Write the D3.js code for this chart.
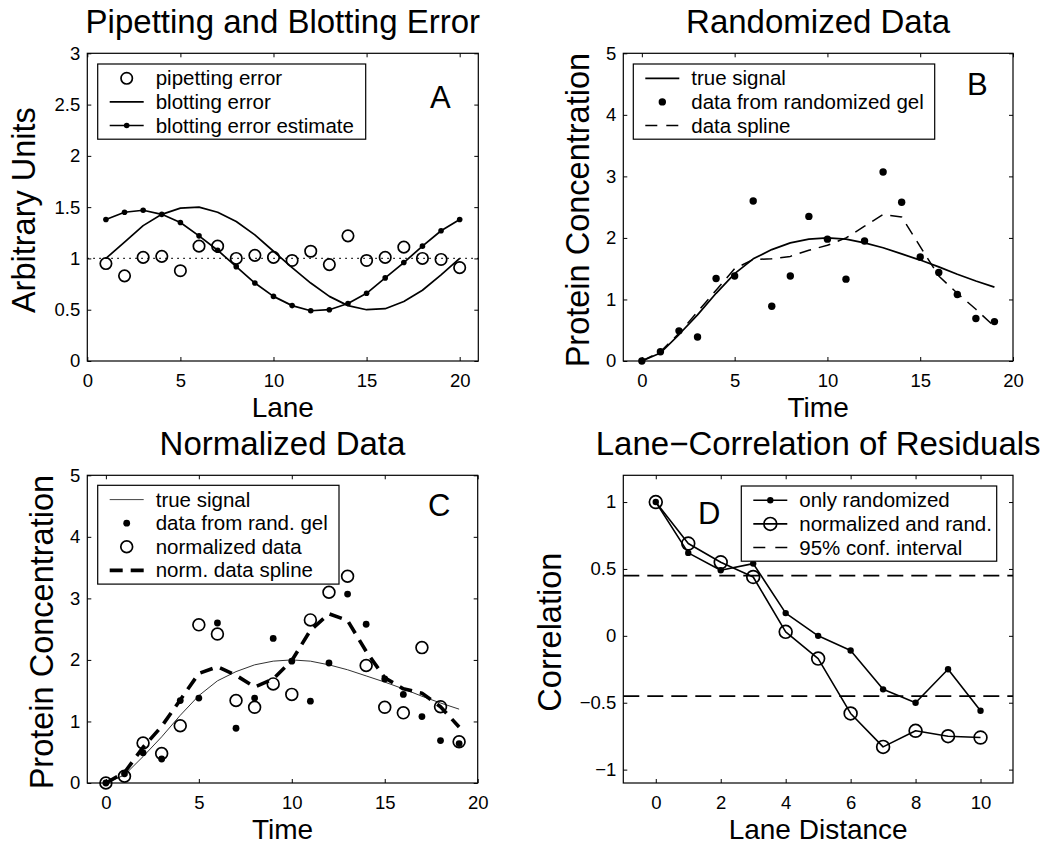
<!DOCTYPE html>
<html>
<head>
<meta charset="utf-8">
<script src="https://cdn.jsdelivr.net/npm/d3@7"></script>
<style>
body { margin: 0; background: #fff; }
text { font-family: "Liberation Sans", Arial, Helvetica, sans-serif; fill: #000; }
</style>
</head>
<body>
<div id="chart"></div>
<script>
// ---- data ----
var lanes = d3.range(1, 21);
var pipetting = [0.95, 0.83, 1.01, 1.02, 0.88, 1.12, 1.12, 1.00, 1.03, 1.01,
                 0.98, 1.07, 0.94, 1.22, 0.98, 1.01, 1.11, 1.00, 0.99, 0.91];
var blotting = [1.00, 1.16, 1.32, 1.43, 1.49, 1.50, 1.45, 1.36, 1.23, 1.07,
                0.91, 0.76, 0.63, 0.54, 0.50, 0.51, 0.58, 0.69, 0.84, 1.00];
var blotEstimate = [1.38, 1.45, 1.47, 1.43, 1.35, 1.22, 1.08, 0.92, 0.76, 0.63,
                    0.54, 0.49, 0.50, 0.56, 0.66, 0.81, 0.96, 1.12, 1.27, 1.38];
var pipetLevel = 1;

var times = d3.range(0, 20);
var trueSignal = [0, 0.13, 0.43, 0.75, 1.10, 1.42, 1.66, 1.81, 1.92, 1.98,
                  2.00, 1.98, 1.92, 1.84, 1.74, 1.64, 1.53, 1.41, 1.30, 1.20];
var randGel = [0, 0.15, 0.49, 0.39, 1.34, 1.38, 2.60, 0.89, 1.38, 2.35,
               1.98, 1.33, 1.95, 3.07, 2.58, 1.69, 1.44, 1.08, 0.69, 0.64];
var dataSpline = [0, 0.15, 0.45, 0.80, 1.15, 1.50, 1.65, 1.66, 1.70, 1.80,
                  1.88, 2.00, 2.19, 2.38, 2.34, 1.86, 1.38, 1.10, 0.84, 0.56];
var normData = [0, 0.11, 0.65, 0.48, 0.93, 2.57, 2.42, 1.34, 1.23, 1.61,
                1.44, 2.65, 3.10, 3.36, 1.91, 1.23, 1.14, 2.20, 1.24, 0.67];
var normSpline = [0, 0.17, 0.58, 0.92, 1.35, 1.78, 1.89, 1.75, 1.56, 1.69,
                  1.99, 2.48, 2.75, 2.64, 2.14, 1.71, 1.53, 1.46, 1.24, 0.91];

var laneDist = d3.range(0, 11);
var onlyRand = [1.00, 0.62, 0.49, 0.54, 0.17, 0.00, -0.11, -0.40, -0.50, -0.25, -0.56];
var normRand = [1.00, 0.69, 0.55, 0.44, 0.03, -0.17, -0.58, -0.83, -0.71, -0.75, -0.76];
var confBound = 0.45;

// ticks
var ticksA_x = [0, 5, 10, 15, 20];
var ticksA_y = [0, 0.5, 1, 1.5, 2, 2.5, 3];
var ticksT_x = [0, 5, 10, 15, 20];
var ticksT_y = [0, 1, 2, 3, 4, 5];
var ticksD_x = [0, 2, 4, 6, 8, 10];
var ticksD_y = [-1, -0.5, 0, 0.5, 1];

var svgWidth = 1048, svgHeight = 844;
var svg = d3.select("#chart").append("svg")
  .attr("width", svgWidth)
  .attr("height", svgHeight);

var fmt = function(d) { return String(d).replace("-", "\u2212"); };

function panel(cfg) {
  var b = cfg.box;
  var x = d3.scaleLinear().domain(cfg.xDomain).range([b.l, b.r]);
  var y = d3.scaleLinear().domain(cfg.yDomain).range([b.b, b.t]);
  var g = svg.append("g");

  var tick = 4;
  var axes = [
    {ax: d3.axisBottom(x).tickValues(cfg.xTicks).tickFormat(fmt).tickPadding(13), t: `translate(0,${b.b})`},
    {ax: d3.axisTop(x).tickValues(cfg.xTicks).tickFormat(""), t: `translate(0,${b.t})`},
    {ax: d3.axisLeft(y).tickValues(cfg.yTicks).tickFormat(fmt).tickPadding(7), t: `translate(${b.l},0)`},
    {ax: d3.axisRight(y).tickValues(cfg.yTicks).tickFormat(""), t: `translate(${b.r},0)`}
  ];
  axes.forEach(function(a) {
    var ag = g.append("g").attr("transform", a.t)
      .call(a.ax.tickSizeInner(-tick).tickSizeOuter(0));
    ag.select(".domain").remove();
    ag.selectAll("line").attr("stroke", "#000").attr("stroke-width", 1);
    ag.selectAll("text").style("font-size", "18.5px")
      .style("font-family", '"Liberation Sans", Arial, sans-serif');
  });

  g.append("rect")
    .attr("x", b.l).attr("y", b.t)
    .attr("width", b.r - b.l).attr("height", b.b - b.t)
    .attr("fill", "none").attr("stroke", "#000").attr("stroke-width", 1.2);

  g.append("text")
    .attr("x", (b.l + b.r) / 2).attr("y", b.t - 20)
    .attr("text-anchor", "middle")
    .style("font-size", "33px")
    .text(cfg.title);

  g.append("text")
    .attr("x", (b.l + b.r) / 2).attr("y", b.b + 56)
    .attr("text-anchor", "middle")
    .style("font-size", "28px")
    .text(cfg.xLabel);

  g.append("text")
    .attr("transform", `translate(${b.l - cfg.yLabelOff},${(b.t + b.b) / 2 + 3}) rotate(-90)`)
    .attr("text-anchor", "middle")
    .style("font-size", "32.5px")
    .text(cfg.yLabel);

  g.append("text")
    .attr("x", cfg.letterPos[0]).attr("y", cfg.letterPos[1])
    .style("font-size", "31px")
    .text(cfg.letter);

  return {g: g, x: x, y: y};
}

function drawLine(p, xs, ys, style) {
  var line = d3.line()
    .x(function(d, i) { return p.x(xs[i]); })
    .y(function(d) { return p.y(d); });
  p.g.append("path")
    .datum(ys)
    .attr("d", line)
    .attr("fill", "none")
    .attr("stroke", style.color || "#000")
    .attr("stroke-width", style.width)
    .attr("stroke-dasharray", style.dash || null)
    .attr("stroke-linejoin", "round");
}

function drawDots(p, xs, ys, r) {
  p.g.selectAll(null)
    .data(ys)
    .enter()
    .append("circle")
    .attr("cx", function(d, i) { return p.x(xs[i]); })
    .attr("cy", function(d) { return p.y(d); })
    .attr("r", r)
    .attr("fill", "#000");
}

function drawRings(p, xs, ys, r) {
  p.g.selectAll(null)
    .data(ys)
    .enter()
    .append("circle")
    .attr("cx", function(d, i) { return p.x(xs[i]); })
    .attr("cy", function(d) { return p.y(d); })
    .attr("r", r)
    .attr("fill", "none")
    .attr("stroke", "#000")
    .attr("stroke-width", 1.7);
}

function legend(p, left, top, width, entries) {
  var rowH = 23.6;
  var lg = p.g.append("g");
  lg.append("rect")
    .attr("x", left).attr("y", top)
    .attr("width", width).attr("height", 28 + rowH * (entries.length - 1))
    .attr("fill", "#fff").attr("stroke", "#000").attr("stroke-width", 1.2);
  entries.forEach(function(e, i) {
    var cy = top + 14.3 + i * rowH;
    if (e.line) {
      lg.append("line")
        .attr("x1", left + 12).attr("x2", left + 46)
        .attr("y1", cy).attr("y2", cy)
        .attr("stroke", e.line.color || "#000")
        .attr("stroke-width", e.line.width)
        .attr("stroke-dasharray", e.line.dash || null);
    }
    if (e.dot) {
      lg.append("circle").attr("cx", left + 29).attr("cy", cy).attr("r", e.dot).attr("fill", "#000");
    }
    if (e.ring) {
      lg.append("circle").attr("cx", left + 29).attr("cy", cy).attr("r", e.ring)
        .attr("fill", "none").attr("stroke", "#000").attr("stroke-width", 1.7);
    }
    lg.append("text")
      .attr("x", left + 58).attr("y", cy + 7)
      .style("font-size", "20.5px")
      .text(e.label);
  });
}

// ---- Panel A ----
var pA = panel({
  box: {l: 87.3, r: 478.3, t: 53.3, b: 361},
  xDomain: [0, 21], yDomain: [0, 3],
  xTicks: ticksA_x, yTicks: ticksA_y,
  title: "Pipetting and Blotting Error", xLabel: "Lane", yLabel: "Arbitrary Units",
  yLabelOff: 52, letter: "A", letterPos: [430, 108]
});
pA.g.append("line")
  .attr("x1", pA.x(0)).attr("x2", pA.x(21))
  .attr("y1", pA.y(pipetLevel)).attr("y2", pA.y(pipetLevel))
  .attr("stroke", "#000").attr("stroke-width", 1.3).attr("stroke-dasharray", "1.5,4.5");
drawLine(pA, lanes, blotting, {width: 1.7});
drawLine(pA, lanes, blotEstimate, {width: 1.7});
drawDots(pA, lanes, blotEstimate, 2.8);
drawRings(pA, lanes, pipetting, 5.7);
legend(pA, 97.7, 64, 268, [
  {label: "pipetting error", ring: 5.7},
  {label: "blotting error", line: {width: 1.7}},
  {label: "blotting error estimate", line: {width: 1.7}, dot: 2.8}
]);

// ---- Panel B ----
var pB = panel({
  box: {l: 623.3, r: 1013, t: 53.3, b: 361},
  xDomain: [-1, 20], yDomain: [0, 5],
  xTicks: ticksT_x, yTicks: ticksT_y,
  title: "Randomized Data", xLabel: "Time", yLabel: "Protein Concentration",
  yLabelOff: 34, letter: "B", letterPos: [967, 94.5]
});
drawLine(pB, times, trueSignal, {width: 1.7});
drawLine(pB, times, dataSpline, {width: 1.5, dash: "12,8"});
drawDots(pB, times, randGel, 3.7);
legend(pB, 633.3, 64, 301.4, [
  {label: "true signal", line: {width: 1.7}},
  {label: "data from randomized gel", dot: 3.7},
  {label: "data spline", line: {width: 1.5, dash: "12,9"}}
]);

// ---- Panel C ----
var pC = panel({
  box: {l: 87.3, r: 477.7, t: 475.3, b: 783},
  xDomain: [-1, 20], yDomain: [0, 5],
  xTicks: ticksT_x, yTicks: ticksT_y,
  title: "Normalized Data", xLabel: "Time", yLabel: "Protein Concentration",
  yLabelOff: 34, letter: "C", letterPos: [428, 516]
});
drawLine(pC, times, trueSignal, {width: 1, color: "#333"});
drawLine(pC, times, normSpline, {width: 3.6, dash: "13,8"});
drawDots(pC, times, randGel, 3.4);
drawRings(pC, times, normData, 5.9);
legend(pC, 97.7, 485.3, 241.3, [
  {label: "true signal", line: {width: 1, color: "#444"}},
  {label: "data from rand. gel", dot: 3.4},
  {label: "normalized data", ring: 5.9},
  {label: "norm. data spline", line: {width: 3.6, dash: "13,8"}}
]);

// ---- Panel D ----
var pD = panel({
  box: {l: 623.3, r: 1013, t: 475.3, b: 783},
  xDomain: [-1, 11], yDomain: [-1.1, 1.2],
  xTicks: ticksD_x, yTicks: ticksD_y,
  title: "Lane\u2212Correlation of Residuals", xLabel: "Lane Distance", yLabel: "Correlation",
  yLabelOff: 62, letter: "D", letterPos: [698, 524]
});
[confBound, -confBound].forEach(function(c) {
  pD.g.append("line")
    .attr("x1", pD.x(-1)).attr("x2", pD.x(11))
    .attr("y1", pD.y(c)).attr("y2", pD.y(c))
    .attr("stroke", "#000").attr("stroke-width", 1.7).attr("stroke-dasharray", "16,8");
});
drawLine(pD, laneDist, onlyRand, {width: 1.6});
drawDots(pD, laneDist, onlyRand, 3.2);
drawLine(pD, laneDist, normRand, {width: 1.6});
drawRings(pD, laneDist, normRand, 6.4);
legend(pD, 741.3, 486, 255.4, [
  {label: "only randomized", line: {width: 1.6}, dot: 3.2},
  {label: "normalized and rand.", line: {width: 1.6}, ring: 6.4},
  {label: "95% conf. interval", line: {width: 1.7, dash: "12,10"}}
]);
</script>
</body>
</html>
